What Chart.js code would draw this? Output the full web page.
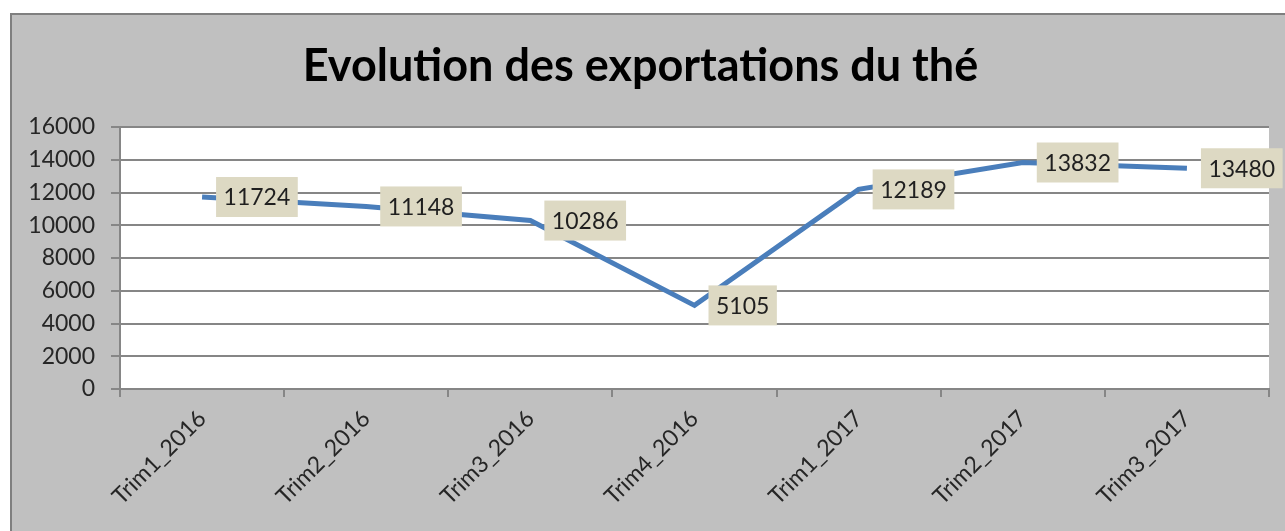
<!DOCTYPE html>
<html>
<head>
<meta charset="utf-8">
<script src="https://cdn.jsdelivr.net/npm/chart.js@4/dist/chart.umd.min.js"></script>
<style>
  html, body { margin: 0; padding: 0; background: #fff; width: 1285px; height: 531px; overflow: hidden; }
  #panel { position: absolute; left: 10px; top: 13px; width: 1275px; height: 518px; box-sizing: border-box; border: 2px solid #7f7f7f; border-right: none; border-bottom: none; background: #c0c0c0; }
  canvas { display: block; }
</style>
</head>
<body>
<div id="panel"><canvas id="chart" width="1273" height="516"></canvas></div>
<script>
const categories = ['Trim1_2016', 'Trim2_2016', 'Trim3_2016', 'Trim4_2016', 'Trim1_2017', 'Trim2_2017', 'Trim3_2017'];
const exports = [11724, 11148, 10286, 5105, 12189, 13832, 13480];
const chartTitle = 'Evolution des exportations du thé';
const yMin = 0, yMax = 16000, yStep = 2000;

const fontFamily = 'Lato, "Open Sans", sans-serif';

// white plot area behind the grid
const plotBg = {
  id: 'plotBg',
  beforeDraw(chart) {
    const a = chart.chartArea, c = chart.ctx;
    c.save();
    c.fillStyle = '#ffffff';
    c.fillRect(a.left, a.top, a.right - a.left, a.bottom - a.top);
    c.restore();
  }
};

// beige value boxes to the right of each point
const valueBoxes = {
  id: 'valueBoxes',
  afterDatasetsDraw(chart) {
    const c = chart.ctx;
    const meta = chart.getDatasetMeta(0);
    c.save();
    c.font = '23px ' + fontFamily;
    c.textAlign = 'center';
    c.textBaseline = 'middle';
    meta.data.forEach((pt, i) => {
      const txt = String(exports[i]);
      const w = c.measureText(txt).width + 15;
      const h = 40;
      const x = pt.x + 14, y = pt.y - h / 2;
      c.fillStyle = '#ddd9c3';
      c.fillRect(x, y, w, h);
      c.fillStyle = '#1f1f1f';
      c.fillText(txt, x + w / 2, pt.y + 1);
    });
    c.restore();
  }
};

new Chart(document.getElementById('chart'), {
  type: 'line',
  data: {
    labels: categories,
    datasets: [{
      label: 'Exportations',
      data: exports,
      borderColor: '#4a7ebb',
      borderWidth: 5,
      pointRadius: 0,
      tension: 0,
      fill: false
    }]
  },
  options: {
    responsive: false,
    animation: false,
    devicePixelRatio: 1,
    layout: { padding: { left: 0, right: 16, top: 0, bottom: 0 } },
    plugins: {
      legend: { display: false },
      tooltip: { enabled: false },
      title: {
        display: true,
        text: chartTitle,
        color: '#000',
        font: { family: fontFamily, size: 45, weight: 'bold' },
        padding: { top: 24, bottom: 34 }
      }
    },
    scales: {
      x: {
        offset: true,
        grid: { offset: true, drawOnChartArea: false, drawTicks: true, tickLength: 8, color: '#868686', lineWidth: 2 },
        border: { color: '#868686', width: 2 },
        ticks: { minRotation: 45, maxRotation: 45, color: '#262626', font: { family: fontFamily, size: 23 }, padding: 8 },
        afterFit(s) { s.height = 142; }
      },
      y: {
        min: yMin,
        max: yMax,
        grid: { color: '#868686', lineWidth: 2, tickLength: 9 },
        border: { color: '#868686', width: 2 },
        ticks: { stepSize: yStep, color: '#262626', font: { family: fontFamily, size: 23 }, padding: 16, callback: v => String(v) },
        afterFit(s) { s.width = 108; }
      }
    }
  },
  plugins: [plotBg, valueBoxes]
});
</script>
</body>
</html>
